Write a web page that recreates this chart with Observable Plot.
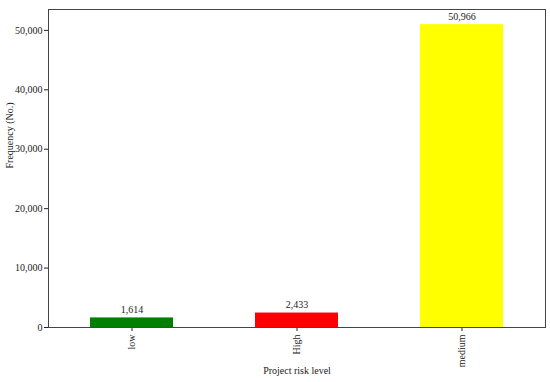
<!DOCTYPE html>
<html>
<head>
<meta charset="utf-8">
<script src="https://cdn.jsdelivr.net/npm/d3@7"></script>
<script src="https://cdn.jsdelivr.net/npm/@observablehq/plot@0.6"></script>
<style>
  html, body { margin: 0; padding: 0; background: #fff; }
  svg { font-family: "Liberation Serif", "Times New Roman", serif; }
</style>
</head>
<body>
<div id="chart"></div>
<script>
const categories = ["low", "High", "medium"];
const counts = [1614, 2433, 50966];
const colors = ["green", "red", "yellow"];
const yTicks = [0, 10000, 20000, 30000, 40000, 50000];

const data = categories.map((c, i) => ({category: c, count: counts[i], color: colors[i]}));
const fmt = d3.format(",");

const chart = Plot.plot({
  width: 550,
  height: 382,
  marginLeft: 48,
  marginRight: 5,
  marginTop: 9,
  marginBottom: 55,
  style: {fontFamily: "'Liberation Serif', 'Times New Roman', serif", fontSize: "10px", color: "#222", background: "#fff"},
  x: {domain: categories, paddingInner: 0.5, paddingOuter: 0.25, label: null},
  y: {domain: [0, 50966 * 1.05], label: null},
  marks: [
    Plot.barY(data, {x: "category", y: "count", fill: "color"}),
    Plot.text(data, {x: "category", y: "count", text: d => fmt(d.count), lineAnchor: "bottom", dy: -5, fontSize: 10, fill: "#222"}),
    Plot.axisY({ticks: yTicks, tickFormat: fmt, tickSize: 4, tickPadding: 2, label: null, fontSize: 10}),
    Plot.axisX({tickRotate: -90, tickSize: 4, tickPadding: 3, label: null, fontSize: 10}),
    Plot.text(["Frequency (No.)"], {frameAnchor: "left", dx: -39, rotate: -90, fontSize: 10, fill: "#222"}),
    Plot.text(["Project risk level"], {frameAnchor: "bottom", dy: 46, fontSize: 10, fill: "#222"}),
    Plot.frame({stroke: "#444", strokeWidth: 1})
  ]
});
document.getElementById("chart").appendChild(chart);
</script>
</body>
</html>
